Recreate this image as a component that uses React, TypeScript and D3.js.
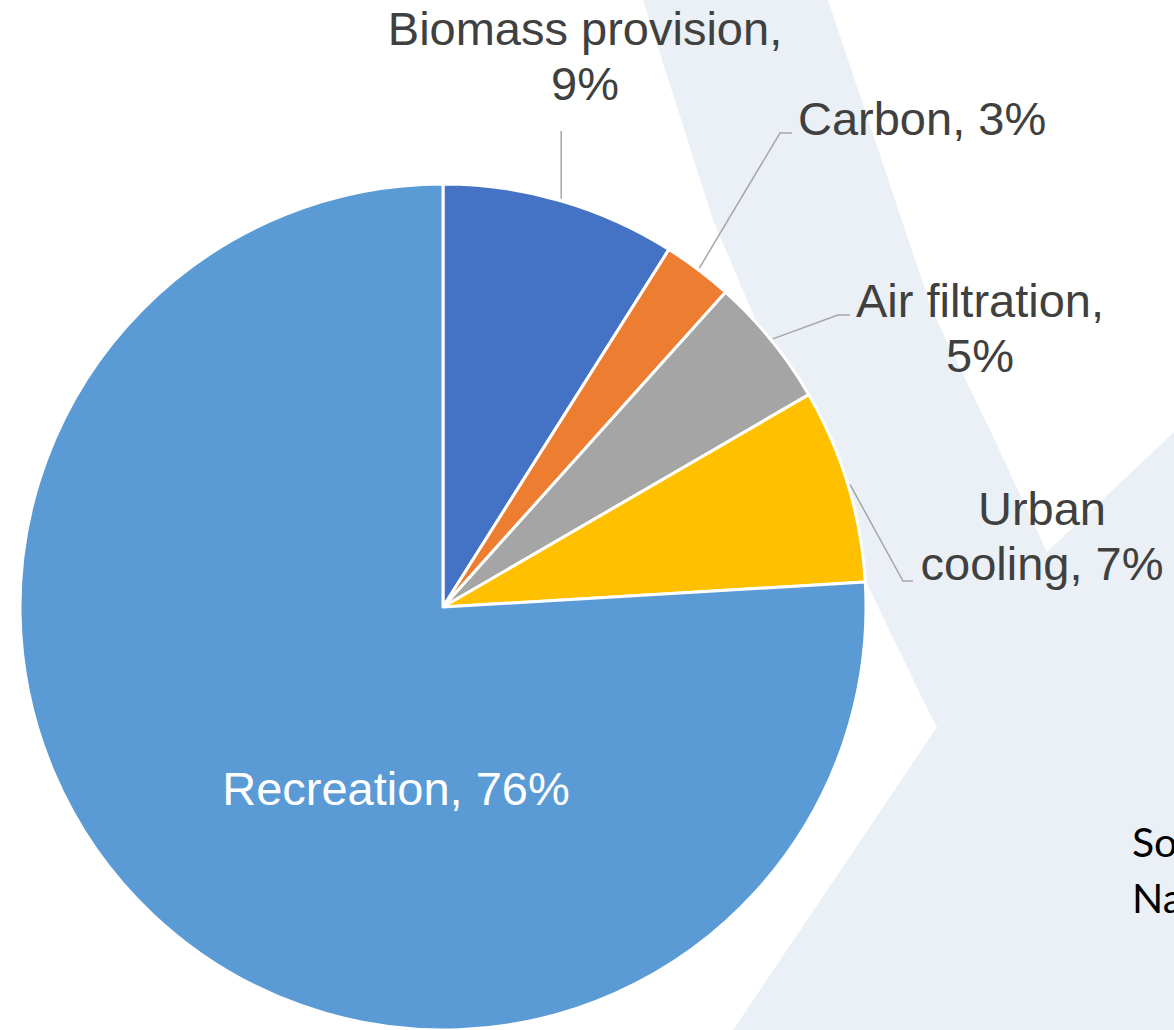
import React from "react";
import * as d3 from "d3";

const categories = ["Biomass provision", "Carbon", "Air filtration", "Urban cooling", "Recreation"];
const shares = [8.97, 2.67, 4.99, 7.43, 75.94];
const colors = ["#4472C4", "#ED7D31", "#A5A5A5", "#FFC000", "#5B9BD5"];
const labelLines = [
  ["Biomass provision,", "9%"],
  ["Carbon, 3%"],
  ["Air filtration,", "5%"],
  ["Urban", "cooling, 7%"],
  ["Recreation, 76%"],
];
const sourceLines = ["Source:", "Natural Capital Accounts"];

const W = 1174;
const H = 1030;
const CX = 443;
const CY = 607;
const R = 423;

// label layout (positions of text anchors & leader elbows), not data
const labelLayout = [
  { x: 585, y: 45, anchor: "middle", elbow: null as null | [number, number], end: [0, 131] as [number, number], vertical: true },
  { x: 798, y: 135, anchor: "start", elbow: [780, 133] as [number, number], end: [792, 133] as [number, number], vertical: false },
  { x: 980, y: 317, anchor: "middle", elbow: [838, 315] as [number, number], end: [850, 315] as [number, number], vertical: false },
  { x: 1042, y: 525, anchor: "middle", elbow: [903, 581] as [number, number], end: [913, 581] as [number, number], vertical: false },
  { x: 396, y: 805, anchor: "middle", elbow: null, end: null as any, vertical: false },
];

const bgLight: [number, number][] = [
  [643, 0], [1174, 0], [1174, 1030], [733, 1030], [937, 727], [923, 700], [870, 590], [750, 307], [713, 220],
];
const bgWhite: [number, number][] = [
  [828, 0], [1174, 0], [1174, 432], [1047, 552], [990, 430], [932, 310],
];

export default function App() {
  const pie = d3.pie<number>().sort(null).value((d) => d)(shares);
  const arc = d3.arc<d3.PieArcDatum<number>>().innerRadius(0).outerRadius(R);
  const poly = (pts: [number, number][]) => "M" + pts.map((p) => p.join(",")).join("L") + "Z";
  const lineGen = d3.line<[number, number]>();
  const fontSize = 47;
  const lineH = 55;

  return (
    <svg
      width={W}
      height={H}
      style={{ position: "fixed", left: 0, top: 0, overflow: "hidden", background: "#ffffff" }}
    >
      <rect x={0} y={0} width={W} height={H} fill="#ffffff" />
      <path d={poly(bgLight)} fill="#EAF0F5" />
      <path d={poly(bgWhite)} fill="#ffffff" />
      <g transform={`translate(${CX},${CY})`}>
        {pie.map((d, i) => (
          <path key={categories[i]} d={arc(d) || ""} fill={colors[i]} stroke="#ffffff" strokeWidth={3} strokeLinejoin="round" />
        ))}
      </g>
      {pie.map((d, i) => {
        const L = labelLayout[i];
        if (!L.end) return null;
        const mid = (d.startAngle + d.endAngle) / 2;
        const sx = CX + (R + 2) * Math.sin(mid);
        const sy = CY - (R + 2) * Math.cos(mid);
        const pts: [number, number][] = L.vertical
          ? [[sx, sy], [sx, L.end[1]]]
          : [[sx, sy], L.elbow as [number, number], L.end];
        return <path key={"l" + i} d={lineGen(pts) || ""} fill="none" stroke="#A6A6A6" strokeWidth={1.5} />;
      })}
      {labelLines.map((lines, i) => {
        const L = labelLayout[i];
        return (
          <text
            key={"t" + i}
            x={L.x}
            y={L.y}
            textAnchor={L.anchor as any}
            fontFamily="'Liberation Sans', Arial, sans-serif"
            fontSize={fontSize}
            fill={i === 4 ? "#ffffff" : "#404040"}
          >
            {lines.map((ln, j) => (
              <tspan key={j} x={L.x} dy={j === 0 ? 0 : lineH}>
                {ln}
              </tspan>
            ))}
          </text>
        );
      })}
      <text x={1132} y={857} fontFamily="Lato, 'Open Sans', sans-serif" fontSize={41} fill="#000000">
        <tspan x={1132} dy={0}>{sourceLines[0]}</tspan>
        <tspan x={1132} dy={56}>{sourceLines[1]}</tspan>
      </text>
    </svg>
  );
}
